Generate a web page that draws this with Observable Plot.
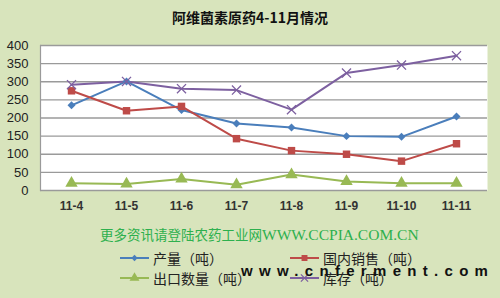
<!DOCTYPE html>
<html>
<head>
<meta charset="utf-8">
<script src="https://cdn.jsdelivr.net/npm/d3@7"></script>
<script src="https://cdn.jsdelivr.net/npm/@observablehq/plot@0.6"></script>
<style>
  html, body { margin: 0; padding: 0; }
  body { width: 500px; height: 298px; background: #d8e4bc; position: relative; overflow: hidden;
         font-family: "Noto Sans CJK SC", "Liberation Sans", sans-serif; }
  #title { position: absolute; top: 7px; left: 0; width: 500px; text-align: center;
           font-size: 14px; font-weight: bold; color: #111; }
  #chart { position: absolute; top: 35px; left: 0; }
  #source { position: absolute; top: 221px; left: 100px; color: #2eb04e; white-space: nowrap; }
  #source .cjk { font-family: "Noto Sans CJK SC"; font-size: 13.5px; }
  #source .lat { font-family: "Liberation Serif", serif; font-size: 15.5px; }
  .leg { position: absolute; display: flex; align-items: center; font-size: 14px; color: #222; white-space: nowrap; }
  .leg svg { margin-right: 4px; }
  #mark { position: absolute; top: 262px; left: 241px; font-family: "Liberation Sans", sans-serif;
          font-weight: bold; font-size: 15px; letter-spacing: 6.3px; color: #111; white-space: nowrap; }
</style>
</head>
<body>
<div id="title">阿维菌素原药4-11月情况</div>
<div id="chart"></div>
<div id="source"><span class="cjk">更多资讯请登陆农药工业网</span><span class="lat">WWW.CCPIA.COM.CN</span></div>
<div id="legend"></div>
<div id="mark">www.cnferment.com</div>
<script>
// Months (year 2011, April to November)
const months = ["11-4", "11-5", "11-6", "11-7", "11-8", "11-9", "11-10", "11-11"];

// Tonnage per month
const production = [235, 301, 222, 185, 174, 150, 148, 204];   // 产量
const domesticSales = [275, 220, 232, 143, 110, 100, 81, 129]; // 国内销售
const exports = [20, 18, 32, 16, 44, 25, 20, 20];              // 出口数量
const inventory = [292, 301, 281, 277, 223, 324, 346, 372];    // 库存

const seriesNames = ["产量（吨）", "国内销售（吨）", "出口数量（吨）", "库存（吨）"];
const seriesColors = ["#4a7ebb", "#be4b48", "#98b954", "#7d60a0"];
const seriesSymbols = ["diamond2", "square", "triangle", "times"];
const seriesSizes = [3.6, 4.2, 4.6, 4.2];
const yTicks = [0, 50, 100, 150, 200, 250, 300, 350, 400];

const allSeries = [production, domesticSales, exports, inventory];
const rows = allSeries.flatMap((vals, i) =>
  vals.map((v, j) => ({ month: months[j], value: v, series: seriesNames[i], idx: i })));

const markerMarks = seriesNames.map((name, i) => {
  const data = rows.filter(d => d.idx === i);
  const stroked = seriesSymbols[i] === "times";
  return Plot.dot(data, {
    x: "month", y: "value",
    symbol: () => seriesSymbols[i],
    r: seriesSizes[i],
    fill: stroked ? "none" : seriesColors[i],
    stroke: stroked ? seriesColors[i] : "none",
    strokeWidth: stroked ? 1.3 : 0
  });
});

const chart = Plot.plot({
  width: 500,
  height: 180,
  marginLeft: 40,
  marginRight: 13,
  marginTop: 10,
  marginBottom: 25,
  style: { background: "transparent", overflow: "visible" },
  x: { type: "point", domain: months, padding: 0.5, label: null },
  y: { domain: [0, 400], label: null },
  color: { domain: seriesNames, range: seriesColors },
  marks: [
    Plot.frame({ fill: "white", stroke: null }),
    Plot.ruleY(yTicks, { stroke: "#9a9a9a", strokeWidth: 1.4 }),
    Plot.frame({ anchor: "left", stroke: "#9a9a9a", strokeWidth: 1.2 }),
    Plot.axisY({ ticks: yTicks, tickSize: 0, tickPadding: 12, fontSize: 13,
                 fontFamily: "Liberation Sans", fill: "#222", label: null }),
    Plot.axisX({ tickSize: 0, tickPadding: 11, fontSize: 12, fontWeight: "bold",
                 fontFamily: "Liberation Sans", fill: "#333", label: null }),
    Plot.lineY(rows, { x: "month", y: "value", z: "series", stroke: "series", strokeWidth: 2 }),
    ...markerMarks
  ]
});
document.getElementById("chart").appendChild(chart);

// Legend: two rows of line-and-marker swatches
const legendPos = [[120, 248], [290, 248], [120, 268], [290, 268]];
const legendEl = document.getElementById("legend");
seriesNames.forEach((name, i) => {
  const item = document.createElement("div");
  item.className = "leg";
  item.style.left = legendPos[i][0] + "px";
  item.style.top = legendPos[i][1] + "px";
  const sw = d3.create("svg").attr("width", 29).attr("height", 18);
  sw.append("line").attr("x1", 0).attr("x2", 29).attr("y1", 9).attr("y2", 9)
    .attr("stroke", seriesColors[i]).attr("stroke-width", 2);
  const sym = { diamond2: d3.symbolDiamond2, square: d3.symbolSquare,
                triangle: d3.symbolTriangle, times: d3.symbolTimes }[seriesSymbols[i]];
  const r = seriesSizes[i] * 0.8;
  const p = sw.append("path").attr("transform", "translate(14.5,9)")
    .attr("d", d3.symbol(sym, Math.PI * r * r)());
  if (seriesSymbols[i] === "times") p.attr("fill", "none").attr("stroke", seriesColors[i]).attr("stroke-width", 1.3);
  else p.attr("fill", seriesColors[i]);
  item.appendChild(sw.node());
  const label = document.createElement("span");
  label.textContent = name;
  item.appendChild(label);
  legendEl.appendChild(item);
});
</script>
</body>
</html>
